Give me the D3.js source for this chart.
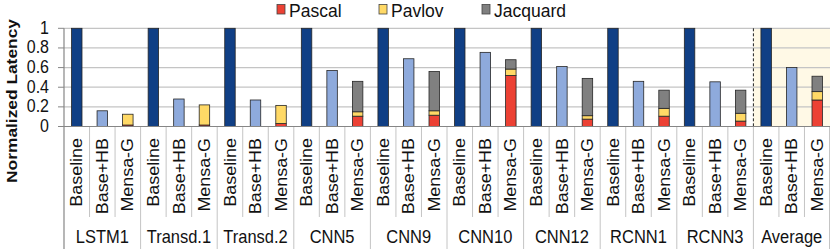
<!DOCTYPE html>
<html><head><meta charset="utf-8">
<script src="https://cdn.jsdelivr.net/npm/d3@7"></script>
<style>
html,body{margin:0;padding:0;background:#fff;}
svg{display:block;font-family:"Liberation Sans",Arial,sans-serif;}
</style></head>
<body><svg id="c" width="830" height="249"></svg>
<script>
const categories = ["LSTM1","Transd.1","Transd.2","CNN5","CNN9","CNN10","CNN12","RCNN1","RCNN3","Average"];
const configs = ["Baseline","Base+HB","Mensa-G"];
const baseline = [1,1,1,1,1,1,1,1,1,1];
const baseHB   = [0.16,0.28,0.27,0.57,0.69,0.755,0.61,0.46,0.455,0.60];
const pascal   = [0.015,0.015,0.03,0.105,0.115,0.52,0.075,0.105,0.055,0.27];
const pavlov   = [0.11,0.205,0.185,0.045,0.045,0.065,0.035,0.08,0.08,0.085];
const jacquard = [0,0,0,0.31,0.40,0.095,0.38,0.185,0.235,0.157];
const yTicks = [0,0.2,0.4,0.6,0.8,1];
const yTickLabels = ["0","0.2","0.4","0.6","0.8","1"];
const seriesNames = ["Pascal","Pavlov","Jacquard"];
const seriesColors = ["#ec4134","#ffd966","#808080"];

const svg = d3.select("#c");
const L = 64, R = 830, T = 28.3, B = 126.5;
const SY = 1.12;

const x = d3.scaleBand().domain(categories).range([L, R]).padding(0);
const xs = d3.scaleBand().domain(configs).range([0, x.bandwidth()]).padding(0);
const barW = xs.bandwidth() * 0.41;
const y = d3.scaleLinear().domain([0, 1]).range([B, T]);

// Average background
const avgX = x("Average");
svg.append("rect").attr("x", avgX).attr("y", y(1)).attr("width", R - avgX).attr("height", y(0) - y(1)).attr("fill", "#fff9e6");

// gridlines
svg.append("g").selectAll("line").data(yTicks.filter(d => d > 0)).join("line")
  .attr("x1", L).attr("x2", R).attr("y1", d => y(d)).attr("y2", d => y(d))
  .attr("stroke", "#c4c4c4").attr("stroke-width", 1.2);

// dashed separator
svg.append("line").attr("x1", avgX).attr("x2", avgX).attr("y1", y(1)).attr("y2", y(0)+1)
  .attr("stroke", "#222").attr("stroke-width", 1).attr("stroke-dasharray", "3,2");

// label area separators
const slots = [];
categories.forEach(c => configs.forEach((k, j) => slots.push({c, k, j, x0: x(c) + xs(k)})));
svg.append("g").selectAll("line").data(slots.filter(s => s.j > 0)).join("line")
  .attr("x1", s => s.x0).attr("x2", s => s.x0).attr("y1", y(0)).attr("y2", 217)
  .attr("stroke", "#c4c4c4").attr("stroke-width", 1);
svg.append("g").selectAll("line").data(categories.slice(1).concat(["__end"])).join("line")
  .attr("x1", d => d === "__end" ? R - 0.5 : x(d)).attr("x2", d => d === "__end" ? R - 0.5 : x(d))
  .attr("y1", y(0)).attr("y2", 249)
  .attr("stroke", "#c4c4c4").attr("stroke-width", 1);

// bars
const g = svg.append("g");
const stroke = "#262626";
categories.forEach((c, i) => {
  const bx = k => x(c) + xs(k) + (xs.bandwidth() - barW) / 2;
  g.append("rect").attr("x", bx("Baseline")).attr("y", y(baseline[i])).attr("width", barW)
    .attr("height", y(0) - y(baseline[i])).attr("fill", "#103f85").attr("stroke", stroke).attr("stroke-width", 0.8);
  g.append("rect").attr("x", bx("Base+HB")).attr("y", y(baseHB[i])).attr("width", barW)
    .attr("height", y(0) - y(baseHB[i])).attr("fill", "#8eaadc").attr("stroke", stroke).attr("stroke-width", 0.8);
  const vals = [pascal[i], pavlov[i], jacquard[i]];
  let acc = 0;
  vals.forEach((v, s) => {
    if (v <= 0) return;
    g.append("rect").attr("x", bx("Mensa-G")).attr("y", y(acc + v)).attr("width", barW)
      .attr("height", y(acc) - y(acc + v)).attr("fill", seriesColors[s]).attr("stroke", stroke).attr("stroke-width", 0.8);
    acc += v;
  });
});

// axes lines
svg.append("line").attr("x1", L).attr("x2", R).attr("y1", y(0)).attr("y2", y(0)).attr("stroke", "#868686").attr("stroke-width", 1.2);
svg.append("line").attr("x1", L).attr("x2", L).attr("y1", y(1)).attr("y2", 249).attr("stroke", "#868686").attr("stroke-width", 1.2);
svg.append("g").selectAll("line").data(yTicks).join("line")
  .attr("x1", L - 6).attr("x2", L).attr("y1", d => y(d)).attr("y2", d => y(d)).attr("stroke", "#868686").attr("stroke-width", 1);

// y tick labels
svg.append("g").selectAll("text").data(yTicks).join("text")
  .attr("transform", d => `translate(49,${y(d) + 5.5}) scale(1,${SY})`)
  .attr("text-anchor", "end").attr("font-size", 16).attr("fill", "#111")
  .text((d, i) => yTickLabels[i]);

// y title
svg.append("text").attr("transform", `translate(17,101) scale(1,${SY}) rotate(-90)`)
  .attr("text-anchor", "middle").attr("font-size", 15.5).attr("font-weight", "bold").attr("fill", "#111")
  .text("Normalized Latency");

// rotated config labels
svg.append("g").selectAll("text").data(slots).join("text")
  .attr("transform", s => `translate(${s.x0 + xs.bandwidth()/2 + 5.6},138) scale(1,${SY}) rotate(-90)`)
  .attr("text-anchor", "end").attr("font-size", 16).attr("fill", "#111")
  .text(s => s.k);

// group labels
svg.append("g").selectAll("text").data(categories).join("text")
  .attr("transform", d => `translate(${x(d) + x.bandwidth()/2},243) scale(1,${SY})`)
  .attr("text-anchor", "middle").attr("font-size", 16.5).attr("fill", "#111")
  .text(d => d);

// legend
const legX = [277, 379, 482];
const leg = svg.append("g");
seriesNames.forEach((n, i) => {
  leg.append("rect").attr("x", legX[i]).attr("y", 4.5).attr("width", 8).attr("height", 9.5)
    .attr("fill", seriesColors[i]).attr("stroke", "#444").attr("stroke-width", 0.8);
  leg.append("text").attr("x", legX[i] + 12).attr("y", 16.5)
    .attr("font-size", 17.5).attr("fill", "#111").text(n);
});
</script></body></html>
